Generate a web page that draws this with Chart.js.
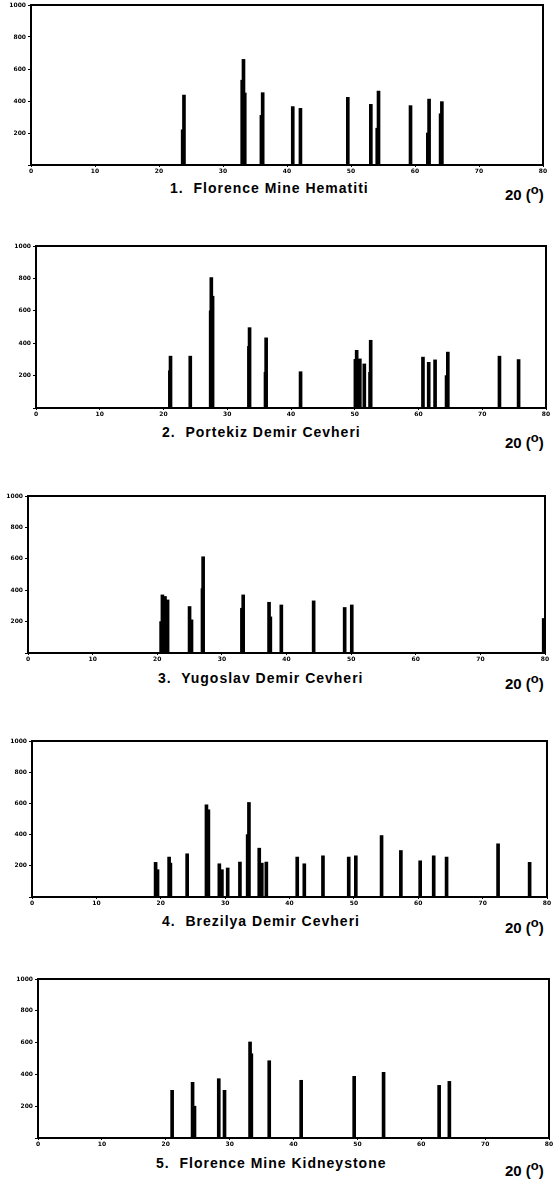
<!DOCTYPE html>
<html>
<head>
<meta charset="utf-8">
<script src="https://cdn.jsdelivr.net/npm/chart.js@4.4.1/dist/chart.umd.min.js"></script>
<style>
  body { margin: 0; background: #fff; }
  #page { position: relative; width: 555px; height: 1180px; overflow: hidden; }
  .wrap { position: absolute; left: 0; width: 555px; }
  .title, .unit {
    position: absolute; color: #000; white-space: pre;
    font: bold 14px "Liberation Sans", Arial, sans-serif; letter-spacing: 1px;
  }
  .unit { font-size: 15px; letter-spacing: 0; }
  .unit sup { font-size: 13px; }
</style>
</head>
<body>
<div id="page"></div>
<script>
'use strict';

// 2-theta axis (degrees) and intensity axis, same for every pattern
let xTicks = [0, 10, 20, 30, 40, 50, 60, 70, 80];
let yTicks = [0, 200, 400, 600, 800, 1000];

let titles = [
  '1.  Florence Mine Hematiti',
  '2.  Portekiz Demir Cevheri',
  '3.  Yugoslav Demir Cevheri',
  '4.  Brezilya Demir Cevheri',
  '5.  Florence Mine Kidneystone'
];

// peak positions (2 theta) and intensities
let hematitAngle = [23.7, 23.9, 33.0, 33.2, 33.4, 36.0, 36.2, 40.9, 42.1, 49.5, 53.1, 54.1, 54.3, 59.3, 62.0, 62.2, 64.0, 64.2];
let hematitCount = [220, 437, 530, 660, 450, 310, 452, 365, 354, 423, 379, 230, 462, 371, 200, 412, 320, 396];

let portekizAngle = [21.0, 21.1, 24.2, 27.4, 27.5, 27.7, 33.4, 33.5, 36.0, 36.1, 41.5, 50.1, 50.3, 50.6, 50.8, 51.5, 52.4, 52.5, 60.7, 61.6, 62.6, 64.4, 64.6, 72.7, 75.7];
let portekizCount = [230, 320, 320, 600, 805, 690, 380, 496, 220, 433, 224, 300, 356, 250, 303, 272, 220, 418, 314, 282, 297, 200, 345, 320, 299];

let yugoslavAngle = [20.6, 20.8, 21.2, 21.6, 25.0, 25.3, 27.0, 27.1, 33.1, 33.3, 37.3, 37.5, 39.2, 44.2, 49.0, 50.1, 79.8];
let yugoslavCount = [200, 370, 360, 338, 296, 211, 410, 613, 285, 370, 323, 230, 306, 332, 290, 306, 220];

let brezilyaAngle = [19.2, 19.5, 21.3, 21.5, 24.1, 27.1, 27.4, 29.1, 29.5, 30.4, 32.3, 33.5, 33.7, 35.3, 35.7, 36.4, 41.2, 42.3, 45.2, 49.2, 50.3, 54.3, 57.3, 60.3, 62.4, 64.4, 72.4, 77.3];
let brezilyaCount = [222, 175, 256, 217, 277, 591, 559, 213, 175, 186, 224, 400, 606, 313, 217, 224, 256, 213, 264, 256, 264, 394, 298, 232, 264, 256, 341, 222];

let kidneyAngle = [21.0, 24.2, 24.5, 28.3, 29.2, 33.2, 33.4, 36.2, 41.2, 49.5, 54.1, 62.8, 64.4];
let kidneyCount = [300, 350, 200, 373, 300, 604, 530, 486, 363, 388, 413, 331, 356];

let patterns = [
  [hematitAngle, hematitCount],
  [portekizAngle, portekizCount],
  [yugoslavAngle, yugoslavCount],
  [brezilyaAngle, brezilyaCount],
  [kidneyAngle, kidneyCount]
];

// plot boxes on the page: left, top, right, bottom
let boxes = [
  [31, 5, 543, 165],
  [36, 246, 546, 408],
  [28, 496, 545, 653],
  [32, 741, 547, 897],
  [38, 979, 549, 1138]
];
// title left / centre y, unit centre y
let titlePos = [[170, 189], [162, 433], [158, 679], [162, 922], [156, 1164]];
let unitY = [192, 440, 681, 925, 1168];

let frame = {
  id: 'frame',
  afterDraw(chart) {
    let a = chart.chartArea;
    let ctx = chart.ctx;
    ctx.save();
    ctx.strokeStyle = '#000';
    ctx.lineWidth = 2;
    ctx.strokeRect(a.left, a.top, a.right - a.left, a.bottom - a.top);
    ctx.restore();
  }
};

let page = document.getElementById('page');
let yAxisW = 26, xAxisH = 14, padTop = 6;

function renderPattern(i) {
  let [L, T, R, B] = boxes[i];
  let wrap = document.createElement('div');
  wrap.className = 'wrap';
  wrap.style.top = (T - padTop) + 'px';
  let h = (B - T) + xAxisH + padTop;
  wrap.style.height = h + 'px';
  let canvas = document.createElement('canvas');
  canvas.width = 555;
  canvas.height = h;
  wrap.appendChild(canvas);
  page.appendChild(wrap);

  let [angles, counts] = patterns[i];

  new Chart(canvas, {
    type: 'bar',
    data: {
      datasets: [{
        data: angles.map((a, k) => ({ x: a, y: counts[k] })),
        backgroundColor: '#000',
        borderWidth: 0,
        barThickness: 3
      }]
    },
    options: {
      responsive: false,
      animation: false,
      devicePixelRatio: 1,
      layout: { padding: { left: L - yAxisW, right: 555 - R, top: padTop, bottom: 0 } },
      plugins: { legend: { display: false }, tooltip: { enabled: false } },
      scales: {
        x: {
          type: 'linear',
          min: xTicks[0],
          max: xTicks[xTicks.length - 1],
          offset: false,
          afterFit: s => { s.height = xAxisH; },
          afterBuildTicks: s => { s.ticks = xTicks.map(v => ({ value: v })); },
          border: { display: false },
          grid: { offset: false, drawOnChartArea: false, tickLength: 2, color: '#000' },
          ticks: { color: '#000', padding: 1, maxRotation: 0, font: { size: 6, weight: 'bold', family: 'DejaVu Sans' } }
        },
        y: {
          min: yTicks[0],
          max: yTicks[yTicks.length - 1],
          afterFit: s => { s.width = yAxisW; },
          afterBuildTicks: s => { s.ticks = yTicks.map(v => ({ value: v })); },
          border: { display: false },
          grid: { drawOnChartArea: false, tickLength: 3, color: '#000' },
          ticks: {
            color: '#000', padding: 2,
            font: { size: 6, weight: 'bold', family: 'DejaVu Sans' },
            callback: v => (v === 0 ? '' : v)
          }
        }
      }
    },
    plugins: [frame]
  });

  let t = document.createElement('div');
  t.className = 'title';
  t.textContent = titles[i];
  t.style.left = titlePos[i][0] + 'px';
  t.style.top = (titlePos[i][1] - 9) + 'px';
  page.appendChild(t);

  let u = document.createElement('div');
  u.className = 'unit';
  u.innerHTML = '20 (<sup>o</sup>)';
  u.style.left = '505px';
  u.style.top = (unitY[i] - 10) + 'px';
  page.appendChild(u);
}

for (let i = 0; i < patterns.length; i++) renderPattern(i);
</script>
</body>
</html>
